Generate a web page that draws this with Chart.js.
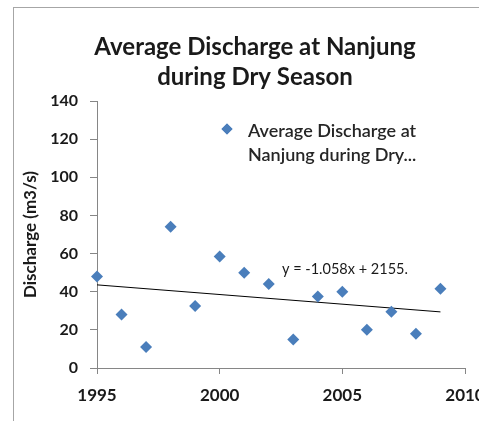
<!DOCTYPE html>
<html>
<head>
<meta charset="utf-8">
<script src="https://cdn.jsdelivr.net/npm/chart.js@4.4.1/dist/chart.umd.min.js"></script>
<style>
  html, body { margin: 0; padding: 0; background: #ffffff; overflow: hidden; }
  #wrap { position: relative; width: 479px; height: 421px; overflow: hidden; background: #fff; }
  #frame { position: absolute; left: 13px; top: 7px; width: 700px; height: 700px;
           border-left: 1px solid #a6a6a6; border-top: 1px solid #a6a6a6; }
  #c { position: absolute; left: 0; top: 0; }
</style>
</head>
<body>
<div id="wrap">
  <div id="frame"></div>
  <canvas id="c" width="500" height="421"></canvas>
</div>
<script>
// ---- data ----
const years = [1995, 1996, 1997, 1998, 1999, 2000, 2001, 2002, 2003, 2004, 2005, 2006, 2007, 2008, 2009];
const discharge = [48, 28, 11, 74, 32.5, 58.5, 50, 44, 15, 37.5, 40, 20, 29.5, 18, 41.5];
const xTickValues = [1995, 2000, 2005, 2010];
const yTickValues = [0, 20, 40, 60, 80, 100, 120, 140];
const titleLines = ['Average Discharge at Nanjung', 'during Dry Season'];
const yAxisTitle = 'Discharge (m3/s)';
const legendLines = ['Average Discharge at', 'Nanjung during Dry...'];
const trendLabel = 'y = -1.058x + 2155.';

// least-squares trendline from the data
const n = years.length;
const mx = years.reduce((a, b) => a + b, 0) / n;
const my = discharge.reduce((a, b) => a + b, 0) / n;
let sxy = 0, sxx = 0;
for (let i = 0; i < n; i++) { sxy += (years[i] - mx) * (discharge[i] - my); sxx += (years[i] - mx) ** 2; }
const slope = sxy / sxx;
const intercept = my - slope * mx;
const trendX = [years[0], years[n - 1]];
const trendPts = trendX.map(x => ({ x: x, y: slope * x + intercept }));

const FONT = 'Lato';
const BLUE = '#4a7ebb';
const AXIS = '#868686';
const TEXT = '#1a1a1a';

const overlay = {
  id: 'overlay',
  afterLayout(chart) {
    // centre the title on the (wider) chart frame
    const t = chart.titleBlock;
    if (t) { t.left += 16; t.right += 16; }
  },
  afterDraw(chart) {
    const ctx = chart.ctx;
    ctx.save();
    // legend entry
    ctx.fillStyle = BLUE;
    Chart.helpers.drawPoint(ctx, { pointStyle: 'rectRot', radius: 5.5, rotation: 0, borderWidth: 0 }, 227, 129);
    ctx.fill();
    ctx.fillStyle = '#262626';
    ctx.font = '600 18px ' + FONT;
    ctx.textBaseline = 'middle';
    ctx.textAlign = 'left';
    ctx.fillText(legendLines[0], 248, 131);
    ctx.fillText(legendLines[1], 248, 155);
    // trendline equation
    ctx.font = '14.5px ' + FONT;
    ctx.fillStyle = TEXT;
    ctx.fillText(trendLabel, 282, 269);
    ctx.restore();
  }
};

new Chart(document.getElementById('c'), {
  type: 'scatter',
  data: {
    datasets: [
      {
        label: legendLines.join(' '),
        data: years.map((x, i) => ({ x: x, y: discharge[i] })),
        pointStyle: 'rectRot',
        pointRadius: 6,
        pointHoverRadius: 6,
        backgroundColor: BLUE,
        borderColor: BLUE,
        borderWidth: 0,
        clip: false,
        order: 1
      },
      {
        type: 'line',
        label: 'trend',
        data: trendPts,
        borderColor: '#000000',
        borderWidth: 1,
        pointRadius: 0,
        fill: false,
        clip: false,
        order: 2
      }
    ]
  },
  options: {
    responsive: false,
    animation: false,
    devicePixelRatio: 1,
    layout: { padding: { left: 13, top: 7, right: 35, bottom: 0 } },
    plugins: {
      legend: { display: false },
      tooltip: { enabled: false },
      title: {
        display: true,
        text: titleLines,
        color: TEXT,
        font: { family: FONT, size: 24, weight: 'bold', lineHeight: 1.25 },
        padding: { top: 25, bottom: 9 }
      }
    },
    scales: {
      x: {
        type: 'linear',
        min: 1995, max: 2010,
        afterBuildTicks: s => { s.ticks = xTickValues.map(v => ({ value: v })); },
        afterFit: s => { s.height = 53; },
        grid: { display: true, drawOnChartArea: false, drawTicks: true, tickLength: 6, color: AXIS },
        border: { display: true, color: AXIS, width: 1 },
        ticks: { color: TEXT, font: { family: FONT, size: 17, weight: 'bold' }, padding: 11, maxRotation: 0,
                 callback: v => String(v) }
      },
      y: {
        min: 0, max: 140,
        afterBuildTicks: s => { s.ticks = yTickValues.map(v => ({ value: v })); },
        afterFit: s => { s.width = 84; },
        grid: { display: true, drawOnChartArea: false, drawTicks: true, tickLength: 7, color: AXIS },
        border: { display: true, color: AXIS, width: 1 },
        ticks: { color: TEXT, font: { family: FONT, size: 16, weight: 'bold' }, padding: 12,
                 callback: v => String(v) },
        title: {
          display: true,
          text: yAxisTitle,
          color: TEXT,
          font: { family: FONT, size: 17, weight: 'bold' },
          padding: { top: 7, bottom: 0 }
        }
      }
    }
  },
  plugins: [overlay]
});
</script>
</body>
</html>
